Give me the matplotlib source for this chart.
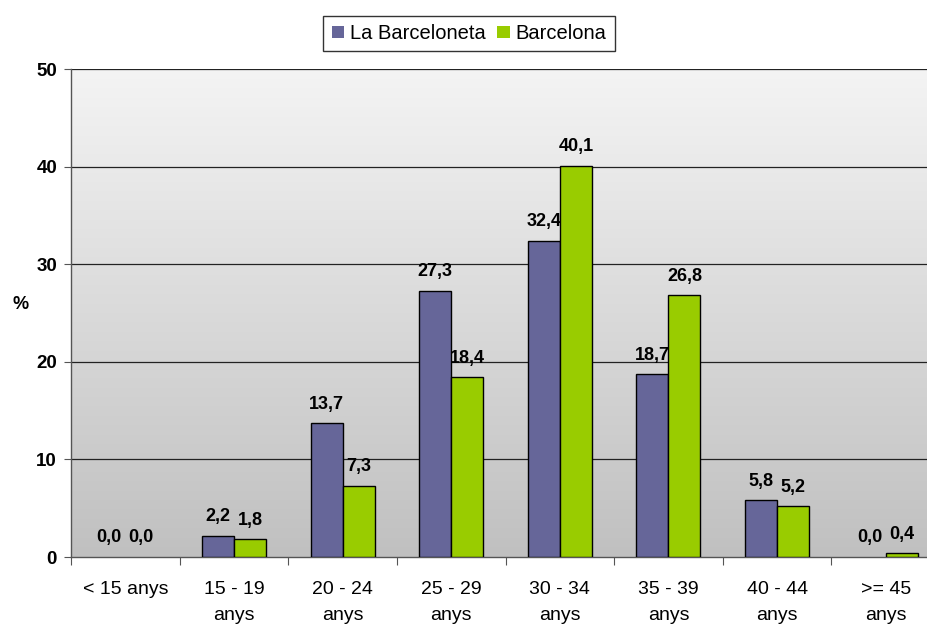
import matplotlib
matplotlib.use("Agg")
import matplotlib.pyplot as plt
import numpy as np
from matplotlib.colors import LinearSegmentedColormap

categories = ["< 15 anys", "15 - 19\nanys", "20 - 24\nanys", "25 - 29\nanys",
              "30 - 34\nanys", "35 - 39\nanys", "40 - 44\nanys", ">= 45\nanys"]
barceloneta = [0.0, 2.2, 13.7, 27.3, 32.4, 18.7, 5.8, 0.0]
barcelona = [0.0, 1.8, 7.3, 18.4, 40.1, 26.8, 5.2, 0.4]
series_names = ["La Barceloneta", "Barcelona"]
yticks = [0, 10, 20, 30, 40, 50]

plt.rcParams['font.family'] = ['Liberation Sans', 'DejaVu Sans']

fig = plt.figure(figsize=(9.27, 6.24), dpi=100)
ax = fig.add_axes([71/927, 1-557/624, 869/927, (557-69)/624])

n = len(categories)
x = np.arange(n)
w = 0.295
ax.set_xlim(-0.5, n-0.5)
ax.set_ylim(0, 50)

# gradient background
grad = np.linspace(0, 1, 256).reshape(-1, 1)
cmap = LinearSegmentedColormap.from_list("g", ["#c0c0c0", "#f4f4f4"])
ax.imshow(grad, extent=[-0.5, n-0.5, 0, 50], origin="lower", aspect="auto",
          cmap=cmap, zorder=0)

def lw(vals):
    return [1.0 if v > 0 else 0 for v in vals]

b1 = ax.bar(x - w/2, barceloneta, w, color="#666699", edgecolor="black",
            linewidth=lw(barceloneta), zorder=3, label=series_names[0])
b2 = ax.bar(x + w/2, barcelona, w, color="#99cc00", edgecolor="black",
            linewidth=lw(barcelona), zorder=3, label=series_names[1])

for xs, vals in ((x - w/2, barceloneta), (x + w/2, barcelona)):
    for xi, v in zip(xs, vals):
        ax.annotate(f"{v:.1f}".replace(".", ","), (xi, v), xytext=(0, 10.5),
                    textcoords="offset points", ha="center", va="baseline",
                    fontsize=13, fontweight="bold", zorder=4)

ax.set_yticks(yticks)
ax.set_yticklabels([str(t) for t in yticks], fontsize=13.5, fontweight="bold")
for t in yticks[1:]:
    ax.axhline(t, color="#222222", linewidth=0.9, zorder=1)

ax.set_xticks(np.arange(-0.5, n, 1.0))
ax.set_xticklabels([])
ax.set_xticks(x, minor=True)
ax.set_xticklabels(categories, minor=True, fontsize=14, linespacing=1.75)
ax.tick_params(axis="x", which="minor", length=0, pad=17)
ax.tick_params(axis="x", which="major", length=6, color="#555555")
ax.tick_params(axis="y", length=5, color="#555555", pad=5)

for s in ("top", "right"):
    ax.spines[s].set_visible(False)
for s in ("left", "bottom"):
    ax.spines[s].set_color("#555555")
    ax.spines[s].set_linewidth(1)

ax.set_ylabel("%", rotation=0, fontsize=13, fontweight="bold")
ax.yaxis.set_label_coords(-0.058, 0.5)

leg = fig.legend(handles=[b1, b2], labels=series_names, loc="center",
                 bbox_to_anchor=(469/927, 1-33.5/624),
                 ncol=2, fontsize=14.5, frameon=True, fancybox=False, edgecolor="black",
                 handlelength=0.6, handleheight=0.6, handletextpad=0.3, columnspacing=0.6,
                 borderpad=0.4)
leg.get_frame().set_linewidth(1)

fig.savefig("out.png", dpi=100)
